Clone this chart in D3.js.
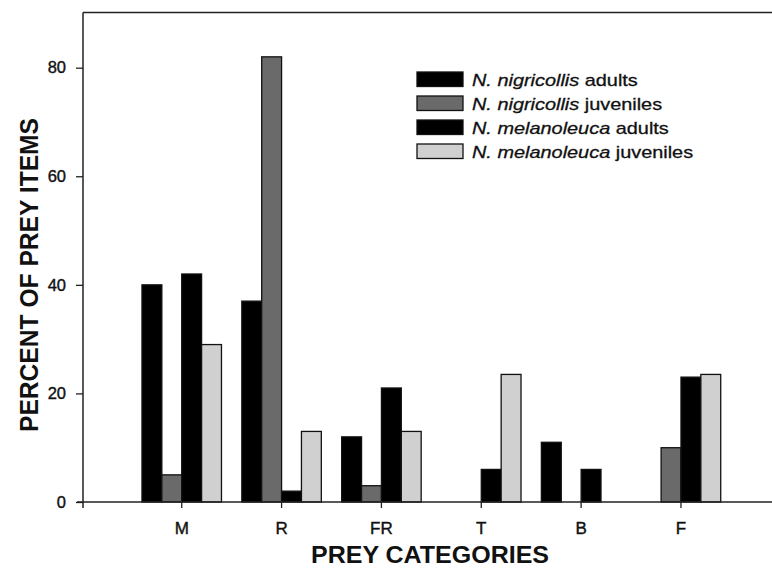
<!DOCTYPE html>
<html>
<head>
<meta charset="utf-8">
<script src="https://cdn.jsdelivr.net/npm/d3@7"></script>
<style>
  html, body { margin: 0; padding: 0; background: #fff; }
  svg { display: block; font-family: "Liberation Sans", Arial, sans-serif; }
</style>
</head>
<body>
<svg id="chart" width="772" height="575"></svg>
<script>
// ---- data ----
const categories = ["M", "R", "FR", "T", "B", "F"];
const seriesNames = ["nig_ad", "nig_juv", "mel_ad", "mel_juv"];
const legendSpecies = ["N. nigricollis", "N. nigricollis", "N. melanoleuca", "N. melanoleuca"];
const legendStage = [" adults", " juveniles", " adults", " juveniles"];
const nigricollisAdults    = [40, 37, 12, 0, 11, 0];
const nigricollisJuveniles = [5, 82, 3, 0, 0, 10];
const melanoleucaAdults    = [42, 2, 21, 6, 6, 23];
const melanoleucaJuveniles = [29, 13, 13, 23.5, 0, 23.5];
const yTicks = [0, 20, 40, 60, 80];
const seriesValues = [nigricollisAdults, nigricollisJuveniles, melanoleucaAdults, melanoleucaJuveniles];
const fills = ["#000000", "#6a6a6a", "#000000", "#d0d0d0"];

// ---- layout ----
const svg = d3.select("#chart");
const axisX = 83, axisY = 502, plotTop = 12.5, plotRight = 772;

const y = d3.scaleLinear().domain([0, 90]).range([axisY, plotTop + 0.9]);
const x0 = d3.scaleBand().domain(categories).range([131.8, 730.9]).padding(0);
const x1 = d3.scaleBand().domain(seriesNames).range([0, x0.bandwidth()]).paddingInner(0).paddingOuter(0.512);

// frame top line
svg.append("line").attr("x1", axisX).attr("x2", plotRight).attr("y1", plotTop).attr("y2", plotTop)
  .attr("stroke", "#222").attr("stroke-width", 1.5);

// bars
const rows = categories.map((c, i) => ({ cat: c, vals: seriesNames.map((s, j) => ({ s, j, v: seriesValues[j][i] })) }));
const g = svg.append("g");
rows.forEach(r => {
  r.vals.filter(d => d.v > 0).forEach(d => {
    g.append("rect")
      .attr("x", x0(r.cat) + x1(d.s))
      .attr("y", y(d.v))
      .attr("width", x1.bandwidth())
      .attr("height", y(0) - y(d.v))
      .attr("fill", fills[d.j])
      .attr("stroke", "#111")
      .attr("stroke-width", 1.3);
  });
});

// y axis
const yAxis = d3.axisLeft(y).tickValues(yTicks).tickSize(7).tickPadding(10).tickFormat(d3.format("d"));
const yg = svg.append("g").attr("transform", `translate(${axisX},0)`).call(yAxis);
yg.select(".domain").remove();
yg.selectAll(".tick line").attr("stroke", "#222").attr("stroke-width", 1.3);
yg.selectAll(".tick text").attr("font-size", 16.5).attr("fill", "#111")
  .attr("stroke", "#111").attr("stroke-width", 0.4)
  .attr("font-family", "Liberation Sans, Arial, sans-serif");
svg.append("line").attr("x1", axisX).attr("x2", axisX).attr("y1", plotTop).attr("y2", axisY + 6)
  .attr("stroke", "#222").attr("stroke-width", 1.5);

// x axis
const xAxis = d3.axisBottom(x0).tickSize(6).tickPadding(14);
const xg = svg.append("g").attr("transform", `translate(0,${axisY})`).call(xAxis);
xg.select(".domain").remove();
xg.selectAll(".tick line").attr("stroke", "#222").attr("stroke-width", 1.3);
xg.selectAll(".tick text").attr("font-size", 17).attr("fill", "#111")
  .attr("stroke", "#111").attr("stroke-width", 0.4)
  .attr("font-family", "Liberation Sans, Arial, sans-serif");
svg.append("line").attr("x1", axisX - 6).attr("x2", plotRight).attr("y1", axisY).attr("y2", axisY)
  .attr("stroke", "#222").attr("stroke-width", 1.5);

// axis titles
svg.append("text").attr("x", 430).attr("y", 563).attr("text-anchor", "middle")
  .attr("font-size", 24).attr("font-weight", "bold").attr("fill", "#111")
  .attr("textLength", 238).attr("lengthAdjust", "spacingAndGlyphs")
  .text("PREY CATEGORIES");
svg.append("text").attr("transform", "translate(38,275) rotate(-90)").attr("text-anchor", "middle")
  .attr("font-size", 26).attr("font-weight", "bold").attr("fill", "#111")
  .attr("textLength", 314).attr("lengthAdjust", "spacingAndGlyphs")
  .text("PERCENT OF PREY ITEMS");

// legend
const lg = svg.append("g").attr("transform", "translate(417,72)");
seriesNames.forEach((s, i) => {
  const row = lg.append("g").attr("transform", `translate(0,${i * 24})`);
  row.append("rect").attr("width", 46).attr("height", 14.5)
    .attr("fill", fills[i]).attr("stroke", "#111").attr("stroke-width", 1.3);
  const t = row.append("g").attr("transform", "translate(55,13.5) scale(1.17,1)")
    .append("text").attr("font-size", 17).attr("fill", "#111")
    .attr("stroke", "#111").attr("stroke-width", 0.3);
  t.append("tspan").attr("font-style", "italic").text(legendSpecies[i]);
  t.append("tspan").text(legendStage[i]);
});
</script>
</body>
</html>
